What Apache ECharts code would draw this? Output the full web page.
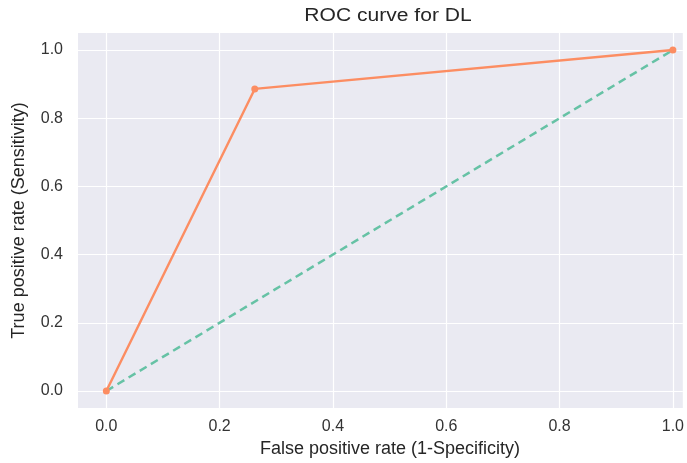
<!DOCTYPE html>
<html>
<head>
<meta charset="utf-8">
<script src="https://cdn.jsdelivr.net/npm/echarts@6/dist/echarts.min.js"></script>
<style>
html,body{margin:0;padding:0;background:#fff;}
#chart{width:687px;height:463px;}
</style>
</head>
<body>
<div id="chart"></div>
<script>
// Data
const rocFpr = [0, 0.262, 1.0];
const rocTpr = [0, 0.886, 1.0];
const chanceX = [0, 1];
const chanceY = [0, 1];
const xTicks = [0, 0.2, 0.4, 0.6, 0.8, 1.0];
const yTicks = [0, 0.2, 0.4, 0.6, 0.8, 1.0];
const titleText = 'ROC curve for DL';
const xName = 'False positive rate (1-Specificity)';
const yName = 'True positive rate (Sensitivity)';

const font = 'Liberation Sans, Arial, sans-serif';
const chart = echarts.init(document.getElementById('chart'));
chart.setOption({
  animation: false,
  backgroundColor: '#ffffff',
  graphic: [{
    type: 'text', x: 388, y: 7, scaleX: 1.17,
    style: { text: titleText, font: 'normal 18px ' + font, fill: '#262626',
      textAlign: 'center', textVerticalAlign: 'top' }
  }, {
    type: 'text', x: 390, y: 440,
    style: { text: xName, font: 'normal 18px ' + font, fill: '#262626',
      textAlign: 'center', textVerticalAlign: 'top' }
  }],
  grid: {
    left: 78, right: 0, top: 33, bottom: 55,
    show: true, backgroundColor: '#eaeaf2', borderWidth: 0
  },
  xAxis: {
    type: 'value', min: -0.05, max: 1.0175,
    axisLine: { show: false },
    axisTick: { show: false, customValues: xTicks },
    axisLabel: { customValues: xTicks, margin: 11, fontFamily: font, fontSize: 16, color: '#333',
      formatter: v => v.toFixed(1) },
    splitLine: { show: true, lineStyle: { color: '#ffffff', width: 1.2 } }
  },
  yAxis: {
    type: 'value', min: -0.05, max: 1.05,
    name: yName, nameLocation: 'middle', nameGap: 50,
    nameTextStyle: { fontFamily: font, fontSize: 18, color: '#262626' },
    axisLine: { show: false },
    axisTick: { show: false, customValues: yTicks },
    axisLabel: { customValues: yTicks, margin: 15, fontFamily: font, fontSize: 16, color: '#333',
      formatter: v => v.toFixed(1) },
    splitLine: { show: true, lineStyle: { color: '#ffffff', width: 1.2 } }
  },
  series: [
    {
      type: 'line',
      data: chanceX.map((x, i) => [x, chanceY[i]]),
      symbol: 'none',
      lineStyle: { color: '#66c2a5', width: 2.5, type: [8, 5] },
      z: 2, clip: false
    },
    {
      type: 'line',
      data: rocFpr.map((x, i) => [x, rocTpr[i]]),
      symbol: 'circle', symbolSize: 7,
      itemStyle: { color: '#fc8d62' },
      lineStyle: { color: '#fc8d62', width: 2.4 },
      z: 3, clip: false
    }
  ]
});
</script>
</body>
</html>
